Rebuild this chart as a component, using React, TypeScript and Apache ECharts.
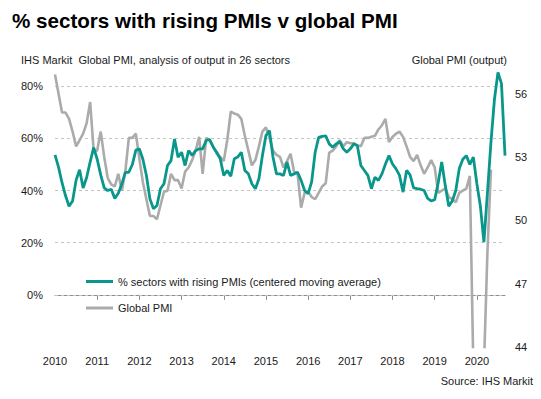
import React, { useEffect, useRef } from "react";
import * as echarts from "echarts";

const TITLE = "% sectors with rising PMIs v global PMI";
const SUBTITLE = "IHS Markit  Global PMI, analysis of output in 26 sectors";
const RIGHT_TITLE = "Global PMI (output)";
const SOURCE = "Source: IHS Markit";
const TEAL_NAME = "% sectors with rising PMIs (centered moving average)";
const GRAY_NAME = "Global PMI";

const START_YEAR = 2010;
const END_YEAR = 2020;
const LAST_MONTH = 9;

// % sectors with rising PMIs (monthly, Jan 2010 .. Sep 2020)
const TEAL_2010 = [53.7, 49, 43, 38, 34, 36, 44, 48, 41, 45, 51, 56.5];
const TEAL_2011 = [52, 46, 41, 40, 40.5, 37, 39, 42.5, 47, 47, 50, 55.5];
const TEAL_2012 = [56, 52, 45.8, 36.8, 33, 34.3, 40.7, 42.6, 49.6, 51.5, 59.8, 52.8];
const TEAL_2013 = [54.7, 49.6, 55.3, 53.5, 55.3, 56, 56, 59.2, 59.5, 56.6, 54.7, 52.2];
const TEAL_2014 = [45.8, 47.7, 45.5, 52.2, 52.9, 54.7, 47.7, 46.4, 42.6, 40.7, 44.5, 53.4];
const TEAL_2015 = [61.1, 63, 52.9, 46.4, 46.4, 45.8, 50.9, 45.8, 46.4, 47, 43.9, 40];
const TEAL_2016 = [38.8, 43.3, 54.7, 60.4, 60.8, 61, 57.9, 56.6, 57.9, 58.8, 56, 54.7];
const TEAL_2017 = [56, 57.9, 57.2, 49.6, 47.7, 45.8, 40.7, 45.1, 43.9, 46.4, 50.2, 53.4];
const TEAL_2018 = [50.2, 48.3, 45.8, 39.4, 47.7, 46, 41, 40.7, 40.5, 40, 37, 36];
const TEAL_2019 = [36.5, 43, 51, 42, 34, 36, 40, 48.5, 52, 53.4, 50, 52.8];
const TEAL_2020 = [42.6, 34, 20.2, 39, 58.5, 75, 85.3, 81, 53.4];

// Global PMI (output), monthly
const GRAY_2010 = [56.9, 56.0, 55.1, 55.1, 54.8, 54.2, 53.5, 53.8, 54.1, 54.6, 55.6, 53.3];
const GRAY_2011 = [53.3, 54.2, 53.0, 52.0, 51.7, 51.6, 52.2, 51.4, 52.3, 53.9, 53.9, 54.1];
const GRAY_2012 = [52.9, 51.8, 51.0, 50.2, 50.2, 50.05, 50.7, 51.35, 51.4, 52.2, 51.9, 51.9];
const GRAY_2013 = [51.5, 52.3, 52.5, 52.85, 53.3, 53.95, 52.2, 53.9, 53.8, 53.5, 53.15, 53.0];
const GRAY_2014 = [52.8, 53.8, 55.15, 55.05, 55.0, 54.8, 54.0, 53.3, 52.6, 52.85, 53.5, 54.2];
const GRAY_2015 = [54.4, 53.9, 53.3, 53.1, 53.0, 52.5, 52.8, 53.15, 52.3, 52.2, 50.6, 51.3];
const GRAY_2016 = [51.35, 51.1, 51.0, 51.3, 51.6, 51.75, 53.2, 53.3, 53.5, 53.8, 53.5, 53.7];
const GRAY_2017 = [53.65, 53.65, 53.55, 53.5, 53.9, 53.9, 53.95, 54.0, 54.3, 54.5, 54.8, 53.7];
const GRAY_2018 = [53.95, 54.1, 54.2, 53.95, 53.5, 53.0, 52.8, 53.1, 52.6, 52.2, 52.5, 52.85];
const GRAY_2019 = [52.5, 51.3, 51.4, 51.5, 51.1, 51.0, 50.85, 51.3, 51.4, 51.5, 52.1, 43];
const GRAY_2020 = [30, 36, 43, 48.5, 52.4];

const LEFT_GRID_VALUES = [0, 20, 40, 60, 80];
const RIGHT_TICKS = [44, 47, 50, 53, 56];

const TEAL = [
  ...TEAL_2010, ...TEAL_2011, ...TEAL_2012, ...TEAL_2013, ...TEAL_2014, ...TEAL_2015,
  ...TEAL_2016, ...TEAL_2017, ...TEAL_2018, ...TEAL_2019, ...TEAL_2020,
];
const GRAY = [
  ...GRAY_2010, ...GRAY_2011, ...GRAY_2012, ...GRAY_2013, ...GRAY_2014, ...GRAY_2015,
  ...GRAY_2016, ...GRAY_2017, ...GRAY_2018, ...GRAY_2019, ...GRAY_2020,
];

const MONTHS: string[] = [];
for (let y = START_YEAR; y <= END_YEAR; y++) {
  for (let m = 1; m <= 12; m++) {
    if (y === END_YEAR && m > LAST_MONTH) break;
    MONTHS.push(`${y}-${m < 10 ? "0" + m : m}`);
  }
}

const FONT = "'Liberation Sans', Arial, sans-serif";
const TEAL_COLOR = "#08978a";
const GRAY_COLOR = "#ababab";
const TEXT_COLOR = "#1a1a1a";

export default function App() {
  const ref = useRef<HTMLDivElement>(null);

  useEffect(() => {
    if (!ref.current) return;
    const chart = echarts.init(ref.current, null, { renderer: "svg" });
    chart.setOption({
      animation: false,
      backgroundColor: "#ffffff",
      textStyle: { fontFamily: FONT },
      title: [
        {
          text: TITLE,
          left: 12,
          top: 10,
          padding: 0,
          textStyle: { fontSize: 20.6, fontWeight: "bold", color: "#000", fontFamily: FONT },
        },
        {
          text: SUBTITLE,
          left: 21,
          top: 54,
          padding: 0,
          textStyle: { fontSize: 11, fontWeight: "normal", color: TEXT_COLOR, fontFamily: FONT },
        },
        {
          text: RIGHT_TITLE,
          right: 34,
          top: 54,
          padding: 0,
          textStyle: { fontSize: 11, fontWeight: "normal", color: TEXT_COLOR, fontFamily: FONT },
        },
        {
          text: SOURCE,
          right: 8,
          top: 375,
          padding: 0,
          textStyle: { fontSize: 11, fontWeight: "normal", color: TEXT_COLOR, fontFamily: FONT },
        },
      ],
      legend: {
        orient: "vertical",
        left: 86,
        top: 276,
        padding: 0,
        icon: "rect",
        itemWidth: 27,
        itemHeight: 3,
        itemGap: 15.5,
        data: [TEAL_NAME, GRAY_NAME],
        textStyle: { fontSize: 11, color: TEXT_COLOR, fontFamily: FONT },
      },
      grid: { left: 55, right: 36, top: 68, bottom: 52, containLabel: false },
      xAxis: {
        type: "category",
        data: MONTHS,
        boundaryGap: false,
        axisLine: { show: true, lineStyle: { color: "#8c8c8c", width: 1 } },
        axisTick: {
          show: true,
          length: 5,
          interval: (i: number) => i % 12 === 0 && i > 0,
          lineStyle: { color: "#8c8c8c" },
        },
        axisLabel: {
          interval: (i: number) => i % 12 === 0,
          formatter: (v: string) => v.slice(0, 4),
          margin: 8,
          fontSize: 11,
          color: TEXT_COLOR,
          fontFamily: FONT,
        },
        splitLine: { show: false },
      },
      yAxis: [
        {
          type: "value",
          position: "left",
          min: -20,
          max: 87,
          interval: 20,
          axisLine: { show: false },
          axisTick: { show: false },
          splitLine: { show: false },
          axisLabel: {
            margin: 12,
            fontSize: 11,
            color: TEXT_COLOR,
            fontFamily: FONT,
            formatter: (v: number) =>
              LEFT_GRID_VALUES.indexOf(v) >= 0 ? `${v}%` : "",
          },
        },
        {
          type: "value",
          position: "right",
          min: 44,
          max: 57.21,
          interval: 1,
          axisLine: { show: false },
          axisTick: { show: false },
          splitLine: { show: false },
          axisLabel: {
            margin: 10,
            fontSize: 11,
            color: TEXT_COLOR,
            fontFamily: FONT,
            formatter: (v: number) => (RIGHT_TICKS.indexOf(v) >= 0 ? String(v) : ""),
          },
        },
      ],
      series: [
        {
          name: "gridlines",
          type: "line",
          yAxisIndex: 0,
          data: [],
          symbol: "none",
          silent: true,
          z: 1,
          markLine: {
            silent: true,
            symbol: "none",
            z: 1,
            label: { show: false },
            lineStyle: { color: "#c4c4c4", type: [3, 3], width: 1 },
            emphasis: { disabled: true },
            data: LEFT_GRID_VALUES.map((v) => ({ yAxis: v })),
          },
        },
        {
          name: GRAY_NAME,
          type: "line",
          yAxisIndex: 1,
          data: GRAY,
          symbol: "none",
          z: 2,
          lineStyle: { color: GRAY_COLOR, width: 2.6 },
          itemStyle: { color: GRAY_COLOR },
        },
        {
          name: TEAL_NAME,
          type: "line",
          yAxisIndex: 0,
          data: TEAL,
          symbol: "none",
          z: 3,
          lineStyle: { color: TEAL_COLOR, width: 2.8 },
          itemStyle: { color: TEAL_COLOR },
        },
      ],
    });
    return () => chart.dispose();
  }, []);

  return (
    <div
      ref={ref}
      style={{ position: "fixed", left: 0, top: 0, width: 541, height: 399, background: "#fff" }}
    />
  );
}
